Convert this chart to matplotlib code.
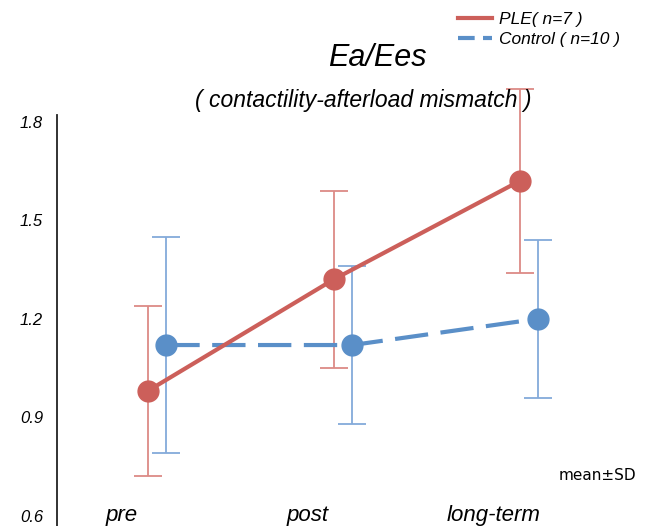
import matplotlib
matplotlib.use("Agg")
import matplotlib.pyplot as plt
from matplotlib.lines import Line2D

# Data: Ea/Ees by period (mean and SD)
periods = ["pre", "post", "long-term"]
ple_mean = [0.98, 1.32, 1.62]
ple_sd = [0.26, 0.27, 0.28]
ctrl_mean = [1.12, 1.12, 1.20]
ctrl_sd = [0.33, 0.24, 0.24]
y_ticks = [0.6, 0.9, 1.2, 1.5, 1.8]

red = "#CC5F5A"
red_err = "#DC8A86"
blue = "#5A8FC8"
blue_err = "#84AADA"

fig = plt.figure(figsize=(6.51, 5.26), dpi=100)
ax = fig.add_axes([57 / 651, 0.0, 583 / 651, 411 / 526])

x = list(range(len(periods)))
x_ple = [v - 0.05 for v in x]
x_ctrl = [v + 0.05 for v in x]

# error bars
ax.errorbar(x_ple, ple_mean, yerr=ple_sd, fmt="none", ecolor=red_err,
            elinewidth=1.3, capsize=10, capthick=1.3, clip_on=False, zorder=2)
ax.errorbar(x_ctrl, ctrl_mean, yerr=ctrl_sd, fmt="none", ecolor=blue_err,
            elinewidth=1.3, capsize=10, capthick=1.3, clip_on=False, zorder=2)

# lines with markers
ax.plot(x_ctrl, ctrl_mean, color=blue, lw=3, dashes=(8, 3), zorder=3)
ax.plot(x_ctrl, ctrl_mean, "o", color=blue, ms=15, zorder=4)
ax.plot(x_ple, ple_mean, color=red, lw=3, zorder=3)
ax.plot(x_ple, ple_mean, "o", color=red, ms=15, zorder=4)

ax.set_xlim(-0.538, 2.597)
ax.set_ylim(0.5683, 1.8213)

for s in ["top", "right", "bottom"]:
    ax.spines[s].set_visible(False)
ax.spines["left"].set_linewidth(1.3)
ax.spines["left"].set_color("#222222")

ax.set_xticks([])
ax.set_yticks(y_ticks)
ax.set_yticklabels([f"{v:.1f}" for v in y_ticks], fontsize=12,
                   fontstyle="italic", family="Liberation Sans")
ax.tick_params(axis="y", length=0, pad=10)

# period labels along the bottom
for xi, name in zip(x, periods):
    ax.text(xi - 0.19, 0.6, name, ha="center", va="center", fontsize=16,
            fontstyle="italic", family="Liberation Sans")

fig.text(377 / 651, 1 - 58 / 526, "Ea/Ees", ha="center", va="center",
         fontsize=22, fontstyle="italic", family="Liberation Sans")
fig.text(363 / 651, 1 - 100 / 526, "( contactility-afterload mismatch )",
         ha="center", va="center", fontsize=16.5, fontstyle="italic",
         family="Liberation Sans")

fig.text(597 / 651, 1 - 475 / 526, "mean±SD", ha="center", va="center",
         fontsize=11, family="DejaVu Sans")

handles = [Line2D([], [], color=red, lw=3),
           Line2D([], [], color=blue, lw=3, dashes=(4, 2))]
fig.legend(handles, ["PLE( n=7 )", "Control ( n=10 )"],
           loc="upper left", bbox_to_anchor=(449 / 651, 1 - 3 / 526),
           frameon=False, borderpad=0, handlelength=1.95, handletextpad=0.45,
           labelspacing=0.27, prop={"family": "Liberation Sans",
                                     "style": "italic", "size": 12.5})

fig.savefig("out.png", dpi=100)
